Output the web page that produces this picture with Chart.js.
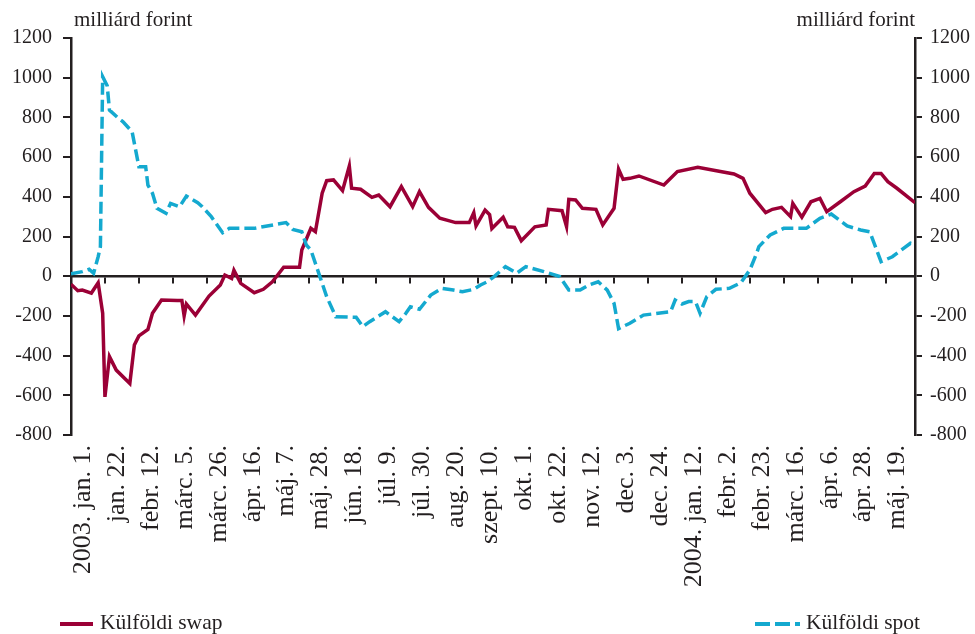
<!DOCTYPE html>
<html><head><meta charset="utf-8">
<script src="https://cdn.jsdelivr.net/npm/chart.js@4.4.0/dist/chart.umd.min.js"></script>
<style>
html,body{margin:0;padding:0;background:#fff;}
#wrap{position:relative;width:975px;height:634px;font-family:"Liberation Serif","Times New Roman",serif;color:#231f20;overflow:hidden;}
#c{position:absolute;left:0;top:0;}
.t{position:absolute;font-size:21px;line-height:21px;white-space:nowrap;}
.lg{position:absolute;font-size:21.5px;line-height:22px;white-space:nowrap;}
.sw{position:absolute;height:4px;}
</style></head><body>
<div id="wrap">
<canvas id="c" width="975" height="634"></canvas>
<div class="t" style="left:74px;top:9px;">milliárd forint</div>
<div class="t" style="right:60px;top:9px;">milliárd forint</div>
<div class="sw" style="left:60px;top:622px;width:33px;background:#9b0036;"></div>
<div class="lg" style="left:100px;top:611px;">Külföldi swap</div>
<div class="sw" style="left:755px;top:622px;width:45px;background:repeating-linear-gradient(90deg,#14a9cf 0 15px,transparent 15px 20px);"></div>
<div class="lg" style="left:806px;top:611px;">Külföldi spot</div>
</div>
<script>
// x = business-day index from 2003. jan. 1. (15 business days between labels)
const tickLabels = ['2003. jan. 1.','jan. 22.','febr. 12.','márc. 5.','márc. 26.','ápr. 16.','máj. 7.','máj. 28.','jún. 18.','júl. 9.','júl. 30.','aug. 20.','szept. 10.','okt. 1.','okt. 22.','nov. 12.','dec. 3.','dec. 24.','2004. jan. 12.','febr. 2.','febr. 23.','márc. 16.','ápr. 6.','ápr. 28.','máj. 19.'];
const yTickValues = [-800,-600,-400,-200,0,200,400,600,800,1000,1200];

const swapDays = [0,3,5,9,12,14,15,17,20,26,28,30,34,36,40,47,49,50,51,55,61,66,68,71,72,75,81,85,89,94,101,102,106,108,111,113,116,120,123,124,128,133,136,141,146,151,154,158,163,170,176,178,179,183,185,186,191,193,196,199,205,210,211,217,219,220,223,226,232,235,240,242,244,247,251,262,268,277,287,293,297,300,307,310,314,318,319,323,327,331,334,340,346,351,355,358,361,365,373];
const swapValues = [-40,-73,-70,-85,-33,-186,-608,-405,-473,-540,-347,-301,-268,-187,-120,-123,-123,-200,-140,-196,-100,-44,6,-11,30,-36,-83,-66,-28,45,45,132,241,224,418,481,485,431,555,443,438,397,409,350,451,350,426,347,292,270,270,320,253,333,310,240,297,249,246,179,249,258,337,330,250,387,384,342,337,258,342,540,488,493,505,459,527,549,527,515,493,418,320,337,347,300,367,297,375,392,325,375,426,454,518,518,476,443,370];

const spotDays = [0,5,8,10,12,13,14,16,17,21,23,27,30,33,34,36,38,42,44,48,51,56,58,62,67,70,81,95,98,102,104,106,110,113,117,126,129,132,139,145,148,150,154,159,164,169,173,178,181,184,187,192,197,201,209,216,220,225,229,233,237,240,242,247,253,265,267,270,273,276,278,281,285,291,296,300,303,304,309,315,325,331,336,343,349,353,358,363,371,373];
const spotValues = [12,23,35,15,98,149,1005,960,837,795,778,728,552,552,459,418,342,317,367,350,404,370,350,300,219,241,241,270,236,224,157,132,-2,-103,-204,-207,-254,-229,-179,-229,-187,-154,-167,-95,-61,-70,-78,-66,-44,-28,-2,48,15,48,23,-2,-70,-70,-44,-28,-70,-137,-264,-237,-196,-179,-120,-140,-128,-128,-187,-103,-66,-61,-33,31,115,149,208,241,241,292,313,253,233,224,73,98,166,160];

const INK = '#231f20';
const FONT = '"Liberation Serif","Times New Roman",serif';
Chart.defaults.font.family = FONT;
Chart.defaults.color = INK;

const labelTicks = s => { s.ticks = tickLabels.map((_, i) => ({ value: i * 15 })); };
const yTicksFn = s => { s.ticks = yTickValues.map(v => ({ value: v })); };

new Chart(document.getElementById('c'), {
  type: 'line',
  data: {
    datasets: [
      { label: 'Külföldi spot', data: spotDays.map((x, i) => ({ x, y: spotValues[i] })),
        borderColor: '#14a9cf', borderWidth: 3.5, borderDash: [12, 5], pointRadius: 0, tension: 0, fill: false },
      { label: 'Külföldi swap', data: swapDays.map((x, i) => ({ x, y: swapValues[i] })),
        borderColor: '#9b0036', borderWidth: 3.5, pointRadius: 0, tension: 0, fill: false }
    ]
  },
  options: {
    responsive: false, animation: false, devicePixelRatio: 1,
    layout: { padding: { top: 38, left: 0, right: 0, bottom: 0 } },
    plugins: { legend: { display: false }, tooltip: { enabled: false } },
    scales: {
      x: {
        type: 'linear', min: 0, max: 373, position: 'bottom',
        afterBuildTicks: labelTicks,
        afterFit: s => { s.height = 199; },
        border: { display: false },
        grid: { display: false, drawTicks: false },
        ticks: { autoSkip: false, minRotation: 90, maxRotation: 90, padding: 10, labelOffset: 12,
          color: INK, font: { family: FONT, size: 26 },
          callback: v => { const i = Math.round(v / 15); return i < tickLabels.length ? tickLabels[i] : ''; } }
      },
      x2: {
        type: 'linear', axis: 'x', min: 0, max: 373, position: { y: 0 },
        afterBuildTicks: labelTicks,
        border: { display: true, color: INK, width: 2.5 },
        grid: { display: true, drawOnChartArea: false, drawTicks: true, tickLength: 6, color: INK, lineWidth: 2 },
        ticks: { display: false }
      },
      y: {
        type: 'linear', min: -800, max: 1200, position: 'left',
        afterBuildTicks: yTicksFn,
        afterFit: s => { s.width = 71; },
        border: { display: true, color: INK, width: 2.5 },
        grid: { drawOnChartArea: false, drawTicks: true, tickLength: 8, color: INK, lineWidth: 2 },
        ticks: { padding: 11, color: INK, font: { family: FONT, size: 20 }, callback: v => String(v) }
      },
      y2: {
        type: 'linear', min: -800, max: 1200, position: 'right',
        afterBuildTicks: yTicksFn,
        afterFit: s => { s.width = 60; },
        border: { display: true, color: INK, width: 2.5 },
        grid: { drawOnChartArea: false, drawTicks: true, tickLength: 7, color: INK, lineWidth: 2 },
        ticks: { padding: 8, color: INK, font: { family: FONT, size: 20 }, callback: v => String(v) }
      }
    }
  }
});
</script>
</body></html>
